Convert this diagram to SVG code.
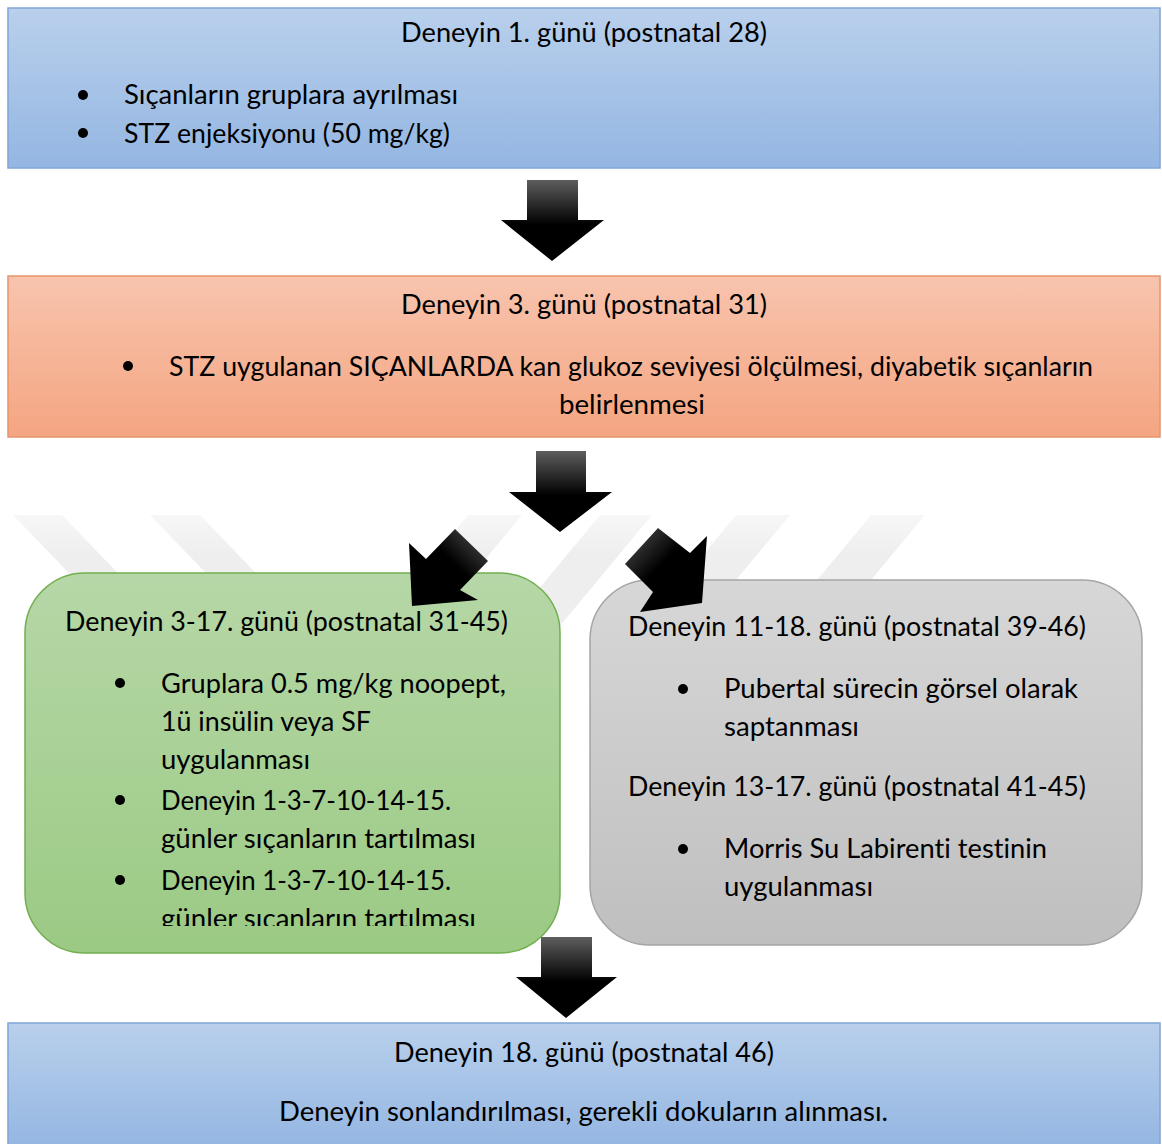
<svg xmlns="http://www.w3.org/2000/svg" width="1162" height="1144" viewBox="0 0 1162 1144">
<style>
.t{font-family:Lato,"Open Sans","Liberation Sans",sans-serif;font-size:27px;fill:#000;font-variant-ligatures:none;font-feature-settings:"liga" 0,"clig" 0}
</style>
<defs>
<linearGradient id="gBlue" x1="0" y1="0" x2="0" y2="1"><stop offset="0" stop-color="#b9d0ec"/><stop offset="1" stop-color="#94b6e2"/></linearGradient>
<linearGradient id="gSal" x1="0" y1="0" x2="0" y2="1"><stop offset="0" stop-color="#f8c4ae"/><stop offset="1" stop-color="#f4a581"/></linearGradient>
<linearGradient id="gGreen" x1="0" y1="0" x2="0" y2="1"><stop offset="0" stop-color="#b6d7a7"/><stop offset="1" stop-color="#9bca84"/></linearGradient>
<linearGradient id="gGray" x1="0" y1="0" x2="0" y2="1"><stop offset="0" stop-color="#d7d7d7"/><stop offset="1" stop-color="#bfbfbf"/></linearGradient>
<linearGradient id="gArrV" x1="0" y1="0" x2="0" y2="1"><stop offset="0" stop-color="#5e5e5e"/><stop offset="0.55" stop-color="#000"/><stop offset="1" stop-color="#000"/></linearGradient>
<linearGradient id="gArrL" x1="1" y1="0" x2="0.2" y2="0.8"><stop offset="0" stop-color="#555"/><stop offset="0.55" stop-color="#000"/><stop offset="1" stop-color="#000"/></linearGradient>
<linearGradient id="gArrR" x1="0" y1="0" x2="0.8" y2="0.8"><stop offset="0" stop-color="#555"/><stop offset="0.55" stop-color="#000"/><stop offset="1" stop-color="#000"/></linearGradient>
<linearGradient id="gWm" x1="0" y1="0" x2="0" y2="1"><stop offset="0" stop-color="#f7f7f7"/><stop offset="0.3" stop-color="#eeeeee"/><stop offset="1" stop-color="#eeeeee"/></linearGradient>
<clipPath id="clipGreen"><rect x="25" y="573" width="535" height="353"/></clipPath>
</defs>
<rect width="1162" height="1144" fill="#fff"/>
<g id="watermark" fill="url(#gWm)">
<polygon points="13,515 62,515 192,650 143,650"/>
<polygon points="150,515 200,515 330,650 280,650"/>
<polygon points="468,515 522,515 410,650 356,650"/>
<polygon points="600,515 652,515 540,650 488,650"/>
<polygon points="736,515 790,515 678,650 624,650"/>
<polygon points="871,515 925,515 813,650 759,650"/>
</g>
<g id="node1">
<rect x="8" y="8" width="1152" height="160" fill="url(#gBlue)" stroke="#7fa7d8" stroke-width="1.5"/>
<text class="t" x="401" y="42" textLength="366" lengthAdjust="spacingAndGlyphs">Deneyin 1. günü (postnatal 28)</text>
<circle cx="83" cy="95" r="5"/>
<text class="t" x="124" y="104" textLength="334" lengthAdjust="spacingAndGlyphs">Sıçanların gruplara ayrılması</text>
<circle cx="83" cy="133" r="5"/>
<text class="t" x="124" y="143" textLength="326" lengthAdjust="spacingAndGlyphs">STZ enjeksiyonu (50 mg/kg)</text>
</g>
<g id="node2">
<rect x="8" y="276" width="1152" height="161" fill="url(#gSal)" stroke="#e8946c" stroke-width="1.5"/>
<text class="t" x="401" y="314" textLength="366" lengthAdjust="spacingAndGlyphs">Deneyin 3. günü (postnatal 31)</text>
<circle cx="128" cy="366" r="5"/>
<text class="t" x="169" y="376" textLength="924" lengthAdjust="spacingAndGlyphs">STZ uygulanan SIÇANLARDA kan glukoz seviyesi ölçülmesi, diyabetik sıçanların</text>
<text class="t" x="559" y="414" textLength="146" lengthAdjust="spacingAndGlyphs">belirlenmesi</text>
</g>
<g id="node3">
<rect x="25" y="573" width="535" height="380" rx="60" ry="60" fill="url(#gGreen)" stroke="#72ae4f" stroke-width="1.5"/>
<text class="t" x="65" y="631" textLength="443" lengthAdjust="spacingAndGlyphs">Deneyin 3-17. günü (postnatal 31-45)</text>
<circle cx="120" cy="683" r="5"/>
<text class="t" x="161" y="693" textLength="345" lengthAdjust="spacingAndGlyphs">Gruplara 0.5 mg/kg noopept,</text>
<text class="t" x="161" y="731" textLength="210" lengthAdjust="spacingAndGlyphs">1ü insülin veya SF</text>
<text class="t" x="161" y="769" textLength="149" lengthAdjust="spacingAndGlyphs">uygulanması</text>
<circle cx="120" cy="800" r="5"/>
<text class="t" x="161" y="810" textLength="290" lengthAdjust="spacingAndGlyphs">Deneyin 1-3-7-10-14-15.</text>
<text class="t" x="161" y="848" textLength="315" lengthAdjust="spacingAndGlyphs">günler sıçanların tartılması</text>
<circle cx="120" cy="880" r="5"/>
<text class="t" x="161" y="890" textLength="290" lengthAdjust="spacingAndGlyphs">Deneyin 1-3-7-10-14-15.</text>
<g clip-path="url(#clipGreen)">
<text class="t" x="161" y="928" textLength="315" lengthAdjust="spacingAndGlyphs">günler sıçanların tartılması</text>
</g>
</g>
<g id="node4">
<rect x="590" y="580" width="552" height="365" rx="60" ry="60" fill="url(#gGray)" stroke="#a5a5a5" stroke-width="1.5"/>
<text class="t" x="628" y="636" textLength="458" lengthAdjust="spacingAndGlyphs">Deneyin 11-18. günü (postnatal 39-46)</text>
<circle cx="683" cy="689" r="5"/>
<text class="t" x="724" y="698" textLength="354" lengthAdjust="spacingAndGlyphs">Pubertal sürecin görsel olarak</text>
<text class="t" x="724" y="736" textLength="135" lengthAdjust="spacingAndGlyphs">saptanması</text>
<text class="t" x="628" y="796" textLength="458" lengthAdjust="spacingAndGlyphs">Deneyin 13-17. günü (postnatal 41-45)</text>
<circle cx="683" cy="849" r="5"/>
<text class="t" x="724" y="858" textLength="323" lengthAdjust="spacingAndGlyphs">Morris Su Labirenti testinin</text>
<text class="t" x="724" y="896" textLength="149" lengthAdjust="spacingAndGlyphs">uygulanması</text>
</g>
<g id="node5">
<rect x="8" y="1023" width="1152" height="125" fill="url(#gBlue)" stroke="#7fa7d8" stroke-width="1.5"/>
<text class="t" x="394" y="1062" textLength="380" lengthAdjust="spacingAndGlyphs">Deneyin 18. günü (postnatal 46)</text>
<text class="t" x="279" y="1121" textLength="609" lengthAdjust="spacingAndGlyphs">Deneyin sonlandırılması, gerekli dokuların alınması.</text>
</g>
<g id="connectors">
<polygon points="527,180 578,180 578,220 604,220 552,261 501,220 527,220" fill="url(#gArrV)"/>
<polygon points="536,451 586,451 586,492 612,492 560,532 509,492 536,492" fill="url(#gArrV)"/>
<polygon points="455,529 488,561 460,590 478,600 412,606 409,543 426,559" fill="url(#gArrL)"/>
<polygon points="658,528 690,553 707,536 702,603 640,612 653,592 625,564" fill="url(#gArrR)"/>
<polygon points="541,937 592,937 592,977 617,977 566,1018 516,977 541,977" fill="url(#gArrV)"/>
</g>
</svg>
